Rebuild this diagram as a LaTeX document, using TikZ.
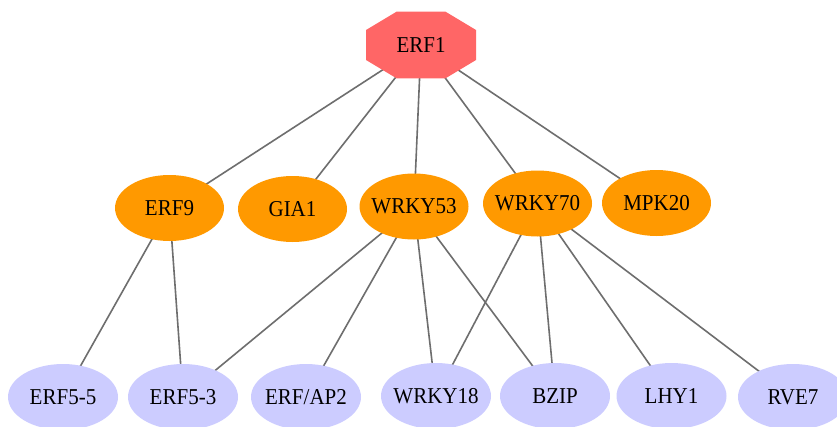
\documentclass[tikz,border=0pt]{standalone}
\usepackage{fontspec}
\setmainfont{Liberation Serif}
\usetikzlibrary{shapes.geometric,backgrounds}
\definecolor{topred}{HTML}{FF6666}
\definecolor{midorange}{HTML}{FF9900}
\definecolor{leafblue}{HTML}{CCCCFF}
\definecolor{edgegray}{HTML}{6E6E6E}
\newcommand{\tallt}[1]{\makebox[0pt]{\scalebox{1}[1.08]{#1}}}
\begin{document}
\begin{tikzpicture}[x=1pt,y=-1pt,
  lbl/.style={font=\fontsize{21}{25}\selectfont, text height=14pt, text depth=0pt, inner sep=0pt},
  midnode/.style={lbl, ellipse, fill=midorange, minimum width=109pt, minimum height=66pt},
  leafnode/.style={lbl, ellipse, fill=leafblue, minimum width=110pt, minimum height=66pt},
  edgeline/.style={draw=edgegray, line width=1.6pt}]
\clip (0,0) rectangle (837,426);
% top octagon
\fill[topred] (396.5,11.7) -- (445.5,11.7) -- (476,30) -- (476,60) -- (445.5,78.3) -- (396.5,78.3) -- (366,60) -- (366,30) -- cycle;
\node[lbl] (erf1) at (421,45) {\tallt{ERF1}};
% middle row
\node[midnode] (erf9)   at (169.5,208)   {\tallt{ERF9}};
\node[midnode] (gia1)   at (292.5,209)   {\tallt{GIA1}};
\node[midnode] (wrky53) at (414,206.5)   {\tallt{WRKY53}};
\node[midnode] (wrky70) at (537.5,203.5) {\tallt{WRKY70}};
\node[midnode] (mpk20)  at (656.5,203)   {\tallt{MPK20}};
% bottom row
\node[leafnode] (erf55)  at (63,397)    {\tallt{ERF5-5}};
\node[leafnode] (erf53)  at (183,397)   {\tallt{ERF5-3}};
\node[leafnode] (erfap2) at (306,397)   {\tallt{ERF/AP2}};
\node[leafnode] (wrky18) at (436,396)   {\tallt{WRKY18}};
\node[leafnode] (bzip)   at (555,396)   {\tallt{BZIP}};
\node[leafnode] (lhy1)   at (671.5,396) {\tallt{LHY1}};
\node[leafnode] (rve7)   at (793,397)   {\tallt{RVE7}};
\begin{pgfonlayer}{background}
\fill[white] (0,0) rectangle (837,426);
\foreach \t in {erf9,gia1,wrky53,wrky70,mpk20}
  \draw[edgeline] (erf1.center) -- (\t.center);
\foreach \t in {erf55,erf53}
  \draw[edgeline] (erf9.center) -- (\t.center);
\foreach \t in {erf53,erfap2,wrky18,bzip}
  \draw[edgeline] (wrky53.center) -- (\t.center);
\foreach \t in {wrky18,bzip,lhy1,rve7}
  \draw[edgeline] (wrky70.center) -- (\t.center);
\end{pgfonlayer}
\end{tikzpicture}
\end{document}
